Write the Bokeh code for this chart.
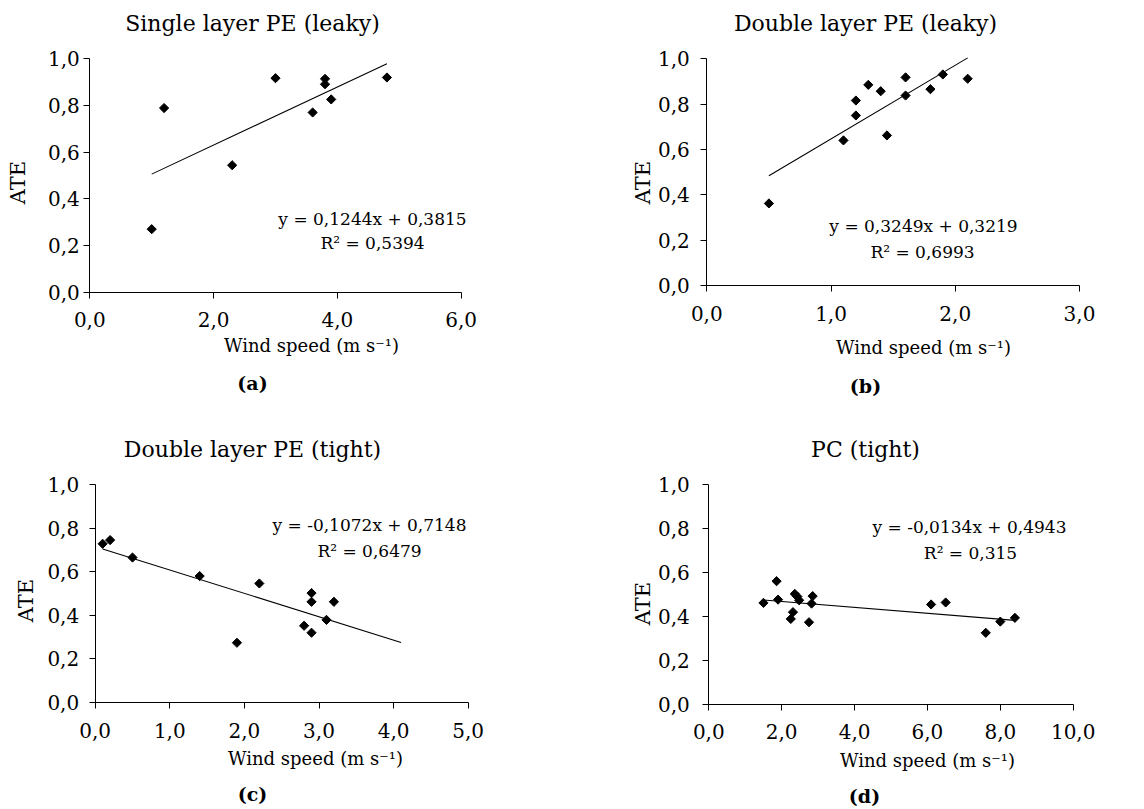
import numpy as np
from bokeh.plotting import figure
from bokeh.models import Label, FixedTicker, CustomJSTickFormatter, Range1d
from bokeh.layouts import column, row
from bokeh.embed import file_html
from bokeh.resources import INLINE

FONT = "DejaVu Serif"

# ---------------- data ----------------
titles = ["Single layer PE (leaky)", "Double layer PE (leaky)",
          "Double layer PE (tight)", "PC (tight)"]
letters = ["(a)", "(b)", "(c)", "(d)"]
x_title = "Wind speed (m s\u207b\u00b9)"
y_title = "ATE"

a_x = [1.0, 1.2, 2.3, 3.0, 3.6, 3.8, 3.8, 3.9, 4.8]
a_y = [0.270, 0.789, 0.544, 0.917, 0.770, 0.914, 0.891, 0.826, 0.920]

b_x = [0.5, 1.1, 1.2, 1.2, 1.3, 1.4, 1.45, 1.6, 1.6, 1.8, 1.9, 2.1]
b_y = [0.362, 0.640, 0.816, 0.750, 0.885, 0.857, 0.662, 0.918, 0.838, 0.866, 0.931, 0.912]

c_x = [0.1, 0.2, 0.5, 1.4, 1.9, 2.2, 2.8, 2.9, 2.9, 2.9, 3.1, 3.2]
c_y = [0.728, 0.745, 0.665, 0.580, 0.274, 0.546, 0.352, 0.502, 0.462, 0.320, 0.379, 0.462]

d_x = [1.5, 1.86, 1.9, 2.25, 2.31, 2.36, 2.43, 2.48, 2.75, 2.82, 2.85, 6.1, 6.5, 7.6, 8.0, 8.4]
d_y = [0.461, 0.560, 0.476, 0.388, 0.419, 0.502, 0.490, 0.473, 0.373, 0.458, 0.492,
       0.454, 0.463, 0.325, 0.376, 0.393]

equations = ["y = 0,1244x + 0,3815", "y = 0,3249x + 0,3219",
             "y = -0,1072x + 0,7148", "y = -0,0134x + 0,4943"]
r2_texts = ["R\u00b2 = 0,5394", "R\u00b2 = 0,6993", "R\u00b2 = 0,6479", "R\u00b2 = 0,315"]
slopes = [0.1244, 0.3249, -0.1072, -0.0134]
intercepts = [0.3815, 0.3219, 0.7148, 0.4943]
trend_start = [1.0, 0.5, 0.1, 1.5]
trend_end = [4.8, 2.1, 4.1, 8.4]

x_max = [6.0, 3.0, 5.0, 10.0]
x_step = [2.0, 1.0, 1.0, 2.0]
y_ticks = [0.0, 0.2, 0.4, 0.6, 0.8, 1.0]

xs = [a_x, b_x, c_x, d_x]
ys = [a_y, b_y, c_y, d_y]

# ---------------- layout (pixels inside each figure) ----------------
# figure size; pixel position of x=0, x=xmax, y=0, y=1 inside the figure
geoms = [
    dict(w=572, h=400, x0=89.3, x1=460.7, y0=291.7, y1=58.3, ystand=4),
    dict(w=570, h=400, x0=134.3, x1=507.0, y0=285.0, y1=58.3, ystand=11),
    dict(w=572, h=407, x0=94.7, x1=467.7, y0=302.0, y1=84.0, ystand=10),
    dict(w=570, h=407, x0=136.3, x1=500.7, y0=303.7, y1=84.0, ystand=13),
]
# text centres (figure pixels)
text_pos = [
    dict(title=(252, 23), yt=(17, 182), xt=(311, 345), let=(252, 382), eq=(372, 218), r2=(372, 242)),
    dict(title=(293, 23), yt=(70, 182), xt=(351, 347), let=(293, 385), eq=(351, 225), r2=(350, 251)),
    dict(title=(252, 49), yt=(25, 200), xt=(315, 358), let=(252, 393), eq=(369, 124), r2=(369, 150)),
    dict(title=(293, 49), yt=(70, 203), xt=(355, 360), let=(292, 395), eq=(397, 126), r2=(398, 152)),
]


def make_panel(i):
    g = geoms[i]
    xm = x_max[i]
    sx = (g["x1"] - g["x0"]) / xm      # px per x unit
    sy = (g["y0"] - g["y1"]) / 1.0     # px per y unit
    xr = Range1d(-g["x0"] / sx, (g["w"] - g["x0"]) / sx)
    yr = Range1d((g["y0"] - g["h"]) / sy, g["y0"] / sy)

    p = figure(width=g["w"], height=g["h"], output_backend="svg", toolbar_location=None,
               x_range=xr, y_range=yr, min_border=0,
               background_fill_color="white", border_fill_color="white")
    p.outline_line_color = None
    p.xgrid.visible = False
    p.ygrid.visible = False

    fmt = CustomJSTickFormatter(code="return tick.toFixed(1).replace('.', ',');")
    xt = [k * x_step[i] for k in range(int(round(xm / x_step[i])) + 1)]
    for ax, ticks, bnd in ((p.xaxis[0], xt, (0, xm)), (p.yaxis[0], y_ticks, (0, 1))):
        ax.ticker = FixedTicker(ticks=ticks)
        ax.formatter = fmt
        ax.fixed_location = 0
        ax.bounds = bnd
        ax.axis_line_color = "black"
        ax.axis_line_width = 1
        ax.major_tick_line_color = "black"
        ax.major_tick_out = 6
        ax.major_tick_in = 0
        ax.minor_tick_line_color = None
        ax.major_label_text_font = FONT
        ax.major_label_text_font_size = "20px"
        ax.major_label_text_color = "black"
    p.xaxis.major_label_standoff = 14
    p.yaxis.major_label_standoff = g["ystand"]

    # data
    p.scatter(xs[i], ys[i], marker="square", size=6.5, angle=np.pi / 4,
              fill_color="black", line_color="black")
    tx = [trend_start[i], trend_end[i]]
    ty = [slopes[i] * v + intercepts[i] for v in tx]
    p.line(tx, ty, line_color="black", line_width=1.1)

    def to_data(px, py):
        return (px - g["x0"]) / sx, (g["y0"] - py) / sy

    tp = text_pos[i]

    def add(txt, pos, size, style="normal", angle=0.0):
        x, y = to_data(*pos)
        p.add_layout(Label(x=x, y=y, text=txt, text_font=FONT, text_font_size=size,
                           text_font_style=style, text_align="center",
                           text_baseline="middle", angle=angle, text_color="black"))

    add(titles[i], tp["title"], "22px")
    add(y_title, tp["yt"], "21px", angle=np.pi / 2)
    add(x_title, tp["xt"], "18px")
    add(letters[i], tp["let"], "19px", style="bold")
    add(equations[i], tp["eq"], "17px")
    add(r2_texts[i], tp["r2"], "17px")
    return p


panels = [make_panel(i) for i in range(4)]
layout = column(row(panels[0], panels[1]), row(panels[2], panels[3]))

open("out.html", "w").write(file_html(layout, INLINE))
